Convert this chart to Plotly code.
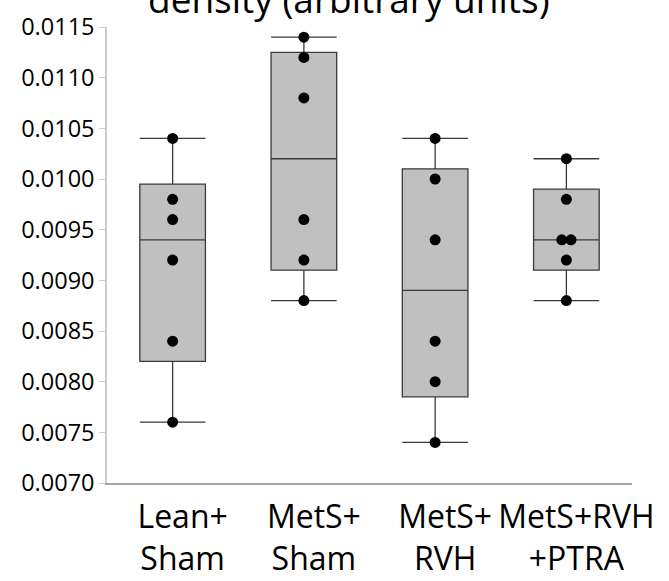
import numpy as np
import plotly.graph_objects as go

# ---- data ----
categories = ["Lean+<br>Sham", "MetS+<br>Sham", "MetS+<br>RVH", "MetS+RVH<br>+PTRA"]
lean_sham = [0.0104, 0.0098, 0.0096, 0.0092, 0.0084, 0.0076]
mets_sham = [0.0114, 0.0112, 0.0108, 0.0096, 0.0092, 0.0088]
mets_rvh = [0.0104, 0.0100, 0.0094, 0.0084, 0.0080, 0.0074]
mets_rvh_ptra = [0.0102, 0.0098, 0.0094, 0.0094, 0.0092, 0.0088]
title_text = "density (arbitrary units)"

groups = [lean_sham, mets_sham, mets_rvh, mets_rvh_ptra]

fig = go.Figure()

box_fill = "#C0C0C0"
line_col = "#3a3a3a"

for i, vals in enumerate(groups):
    v = np.array(vals)
    q1, med, q3 = np.percentile(v, [25, 50, 75], method="weibull")
    fig.add_trace(go.Box(
        x=[i], q1=[q1], median=[med], q3=[q3],
        lowerfence=[v.min()], upperfence=[v.max()],
        width=0.5, whiskerwidth=1,
        fillcolor=box_fill,
        line=dict(color=line_col, width=1.3),
        boxpoints=False, showlegend=False, hoverinfo="skip",
    ))

# points, dodging duplicated values side by side
for i, vals in enumerate(groups):
    xs, ys = [], []
    uniq = {}
    for val in vals:
        uniq.setdefault(val, 0)
        uniq[val] += 1
    for val, cnt in uniq.items():
        offs = (np.arange(cnt) - (cnt - 1) / 2) * 0.07
        for o in offs:
            xs.append(i + o)
            ys.append(val)
    fig.add_trace(go.Scatter(
        x=xs, y=ys, mode="markers",
        marker=dict(color="black", size=11),
        showlegend=False, hoverinfo="skip", cliponaxis=False,
    ))

fig.add_annotation(
    text=title_text, xref="paper", yref="paper",
    x=0.461, y=1.003, xanchor="center", yanchor="bottom",
    showarrow=False, font=dict(family="Open Sans", size=37, color="black"),
)

fig.update_layout(
    width=669, height=581,
    margin=dict(l=107, r=37, t=26.5, b=97.7),
    paper_bgcolor="white", plot_bgcolor="white",
    font=dict(family="Open Sans", color="black"),
    xaxis=dict(
        range=[-0.5, 3.5], tickmode="array",
        tickvals=list(range(len(categories))), ticktext=categories,
        showgrid=False, zeroline=False, showline=True,
        linecolor="#a6a6a6", linewidth=1.5, ticks="",
        tickfont=dict(size=32, family="Open Sans"),
        ticklabelstandoff=5, ticklabelshift=10, automargin=False,
    ),
    yaxis=dict(
        range=[0.0070, 0.0115], dtick=0.0005, tick0=0.0070,
        tickformat=".4f", showgrid=False, zeroline=False,
        showline=True, linecolor="#cccccc", linewidth=1.5,
        ticks="outside", ticklen=6, tickcolor="#cccccc", tickwidth=1,
        tickfont=dict(size=23.5, family="Open Sans"), automargin=False,
    ),
)

fig.write_html("out.html")
